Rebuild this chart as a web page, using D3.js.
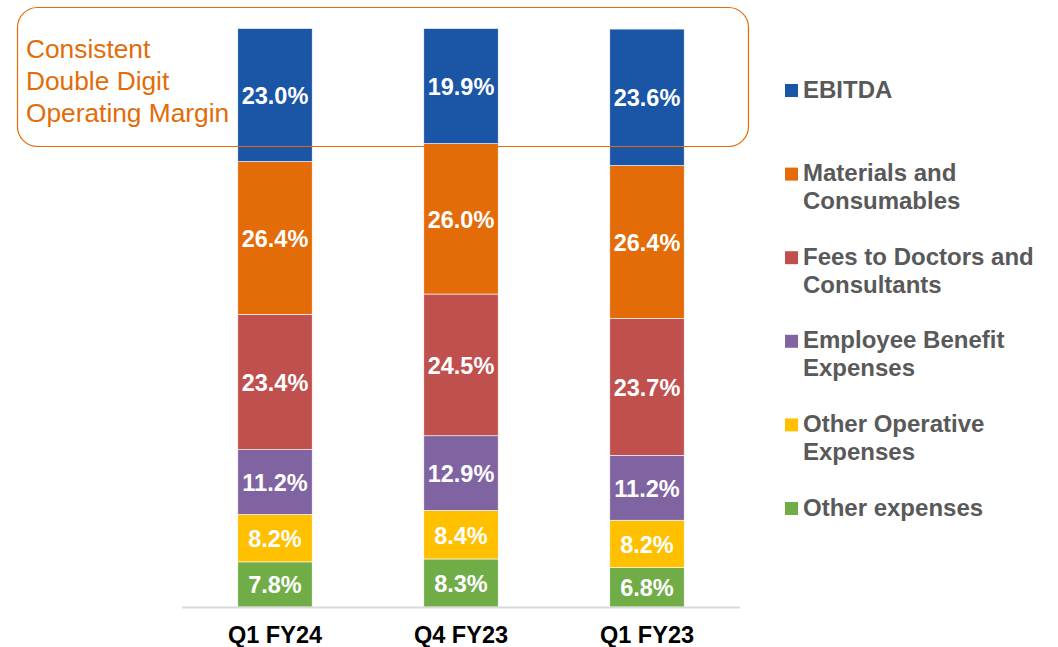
<!DOCTYPE html>
<html>
<head>
<meta charset="utf-8">
<script src="https://cdn.jsdelivr.net/npm/d3@7"></script>
<style>
  body { margin: 0; background: #fff; }
  svg { display: block; font-family: "Liberation Sans", Arial, sans-serif; }
</style>
</head>
<body>
<svg id="chart" width="1058" height="647"></svg>
<script>
// quarters along the x axis
var quarters = ["Q1 FY24", "Q4 FY23", "Q1 FY23"];

// cost split, % of revenue (bottom to top)
var otherExpenses   = [7.8, 8.3, 6.8];
var otherOperative  = [8.2, 8.4, 8.2];
var employeeBenefit = [11.2, 12.9, 11.2];
var feesDoctors     = [23.4, 24.5, 23.7];
var materials       = [26.4, 26.0, 26.4];
var ebitda          = [23.0, 19.9, 23.6];

var seriesKeys = ["other", "operative", "employee", "fees", "materials", "ebitda"];
var seriesValues = [otherExpenses, otherOperative, employeeBenefit, feesDoctors, materials, ebitda];
var seriesColors = ["#70AD47", "#FFC000", "#8064A2", "#C0504D", "#E36C09", "#1A55A6"];

// legend, top to bottom, with its line breaks
var legendKeys  = ["ebitda", "materials", "fees", "employee", "operative", "other"];
var legendLines = [["EBITDA"], ["Materials and", "Consumables"], ["Fees to Doctors and", "Consultants"],
                   ["Employee Benefit", "Expenses"], ["Other Operative", "Expenses"], ["Other expenses"]];

var noteLines = ["Consistent", "Double Digit", "Operating Margin"];

//build rows for d3.stack
var rows = quarters.map(function(q, i){
	var r = {quarter: q};
	seriesKeys.forEach(function(k, j){ r[k] = seriesValues[j][i]; });
	return r;
});

var color = d3.scaleOrdinal().domain(seriesKeys).range(seriesColors);

var svg = d3.select("#chart");

var x = d3.scaleBand().domain(quarters).range([182, 740]).paddingInner(0.6).paddingOuter(0.3);
var y = d3.scaleLinear().domain([0, 100]).range([607, 28.5]);

var stacked = d3.stack().keys(seriesKeys)(rows);

var layers = svg.append("g").selectAll("g")
	.data(stacked)
	.enter().append("g")
	.style("fill", function(d){ return color(d.key); });

layers.selectAll("rect")
	.data(function(d){ return d; })
	.enter().append("rect")
	.attr("x", function(d){ return x(d.data.quarter); })
	.attr("width", x.bandwidth())
	.attr("y", function(d){ return y(d[1]); })
	.attr("height", function(d){ return y(d[0]) - y(d[1]); })
	.style("stroke", "#ffffff")
	.style("stroke-width", 0.6);

//value labels, centred in each segment
layers.selectAll("text")
	.data(function(d){ return d; })
	.enter().append("text")
	.attr("x", function(d){ return x(d.data.quarter) + x.bandwidth() / 2; })
	.attr("y", function(d){ return (y(d[0]) + y(d[1])) / 2 + 1; })
	.attr("text-anchor", "middle")
	.attr("dominant-baseline", "central")
	.style("fill", "#ffffff")
	.style("font-weight", "bold")
	.style("font-size", "23.5px")
	.text(function(d){ return (d[1] - d[0]).toFixed(1) + "%"; });

//x axis: plain grey line plus bold labels
var xAxis = svg.append("g")
	.attr("transform", "translate(0," + y(0) + ")")
	.call(d3.axisBottom(x).tickSize(0).tickPadding(19));
xAxis.select(".domain").attr("d", "M182,0.5H740").style("stroke", "#D9D9D9").style("stroke-width", 2);
xAxis.selectAll("text")
	.style("font-family", "'Liberation Sans', Arial, sans-serif")
	.style("font-size", "23.5px")
	.style("font-weight", "bold")
	.style("fill", "#000000");

//legend
var legend = svg.append("g").selectAll("g")
	.data(legendKeys)
	.enter().append("g")
	.attr("transform", function(d, i){ return "translate(785," + (97.5 + i * 83.6) + ")"; });

legend.append("rect")
	.attr("x", 0)
	.attr("y", -13.5)
	.attr("width", 13)
	.attr("height", 13)
	.style("fill", function(d){ return color(d); });

legend.append("text")
	.style("fill", "#595959")
	.style("font-weight", "bold")
	.style("font-size", "24px")
	.selectAll("tspan")
	.data(function(d, i){ return legendLines[i]; })
	.enter().append("tspan")
	.attr("x", 18)
	.attr("y", function(d, i){ return i * 28; })
	.text(function(d){ return d; });

//annotation box around the EBITDA band
var note = svg.append("g");
note.append("text")
	.style("fill", "#E36C09")
	.style("font-size", "26.3px")
	.selectAll("tspan")
	.data(noteLines)
	.enter().append("tspan")
	.attr("x", 26)
	.attr("y", function(d, i){ return 57.5 + i * 32; })
	.text(function(d){ return d; });

note.append("rect")
	.attr("x", 17.5)
	.attr("y", 7.5)
	.attr("width", 731)
	.attr("height", 139)
	.attr("rx", 20)
	.attr("ry", 20)
	.style("fill", "none")
	.style("stroke", "#E36C09")
	.style("stroke-width", 1.2);
</script>
</body>
</html>
